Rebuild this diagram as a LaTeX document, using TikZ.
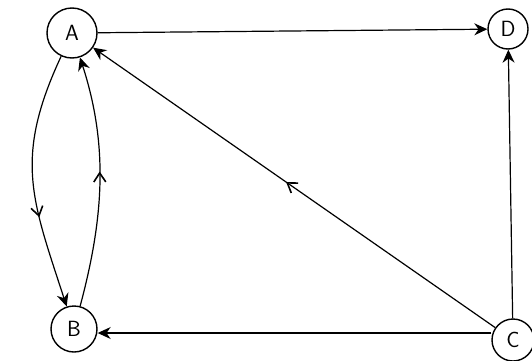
\documentclass[tikz,border=0pt]{standalone}
\usetikzlibrary{arrows.meta,decorations.markings}
\begin{document}
\begin{tikzpicture}[x=1pt,y=1pt,
  vtx/.style={circle,draw,line width=1.4pt,inner sep=0pt,font=\sffamily\fontsize{22}{22}\selectfont},
  edge/.style={line width=1.2pt,-{Stealth[length=13pt,width=12pt]}},
  midarrow/.style={postaction={decorate},decoration={markings,mark=at position #1 with {\arrow{Straight Barb[length=9pt,width=12pt,line width=1.6pt]}}}}
]
\useasboundingbox (0,0) rectangle (532,360);
\node[vtx,minimum size=50pt] (A) at (72,327) {A};
\node[vtx,minimum size=40pt] (D) at (508,331) {D};
\node[vtx,minimum size=46pt] (B) at (74,31) {B};
\node[vtx,minimum size=42pt] (C) at (513,20) {C};
\draw[edge] (A) -- (D);
\draw[edge] (C) -- (D);
\draw[edge] (C.west) ++(0,7) coordinate (c1) -- (B.east |- c1);
\draw[edge,midarrow=0.52] (C) -- (A);
\draw[edge,midarrow=0.64] (A) to[out=245,in=108,looseness=1.15] (B);
\draw[edge,midarrow=0.54] (B) to[out=75,in=-72,looseness=0.95] (A);
\end{tikzpicture}
\end{document}
